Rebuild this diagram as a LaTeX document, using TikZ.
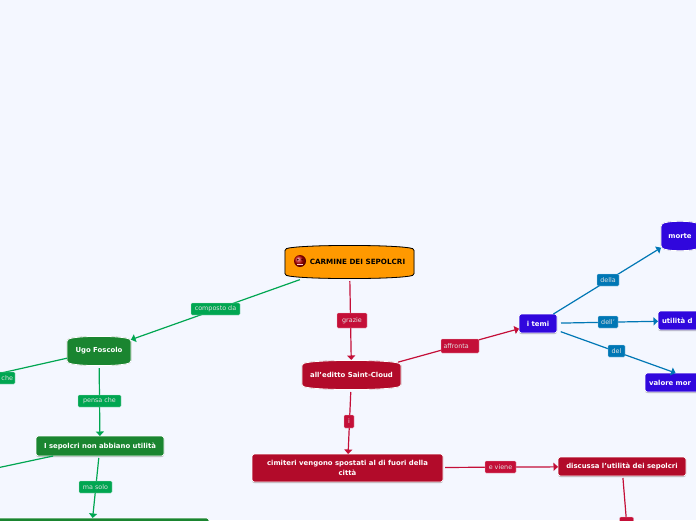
\documentclass[tikz,border=0pt]{standalone}
\usepackage{fontspec}
\setmainfont{DejaVu Sans}
\usetikzlibrary{calc,arrows.meta,shadows}
\definecolor{bgc}{HTML}{F4F7FF}
\definecolor{orangec}{HTML}{FF9900}
\definecolor{crim}{HTML}{B20B2A}
\definecolor{crimlab}{HTML}{C40F38}
\definecolor{forest}{HTML}{1A8530}
\definecolor{greenlab}{HTML}{00A651}
\definecolor{indigo}{HTML}{3007DD}
\definecolor{bluelab}{HTML}{0077B5}
\pgfdeclarelayer{bg}
\pgfsetlayers{bg,main}
\tikzset{
  shapebase/.style={rectangle,inner sep=0pt,outer sep=0pt,align=center,font=\fontsize{6.9}{10}\selectfont\bfseries},
  barrelnode/.style={shapebase,text=white,minimum width=#1},
  boxnode/.style={shapebase,text=white,rounded corners=2.5pt,draw=white,line width=.7pt,
    drop shadow={shadow xshift=0pt,shadow yshift=-1pt,fill=black,opacity=.3}},
  lab/.style={rectangle,rounded corners=1.2pt,inner sep=0pt,outer sep=0pt,text=white!88!black,
    font=\fontsize{6.4}{8}\selectfont,fill=#1,draw=white!70!#1,line width=.3pt},
  conn/.style={color=#1,line width=1.2pt,shorten <=2pt,-{Triangle[length=4.5pt,width=8pt]}},
  plainconn/.style={color=#1,line width=1.2pt,shorten <=0pt}
}
\newcommand{\barrelbg}[4]{%
  \begin{pgfonlayer}{bg}
  \coordinate (bnw) at (#1.north west);
  \coordinate (bse) at (#1.south east);
  \foreach \off/\fc/\dc/\lw in {1/black!30/black!30/.7,0/#2/#3/.8}{
    \draw[fill=\fc,draw=\dc,line width=\lw pt,rounded corners=1.5pt,yshift=-\off pt]
      let \p1=(bnw),\p2=(bse) in
      (\x1,\y1-#4 pt) .. controls ({\x1+(\x2-\x1)*.12},\y1+#4*.15pt) and ({\x2-(\x2-\x1)*.12},\y1+#4*.15pt) .. (\x2,\y1-#4 pt)
      -- (\x2,\y2+#4 pt) .. controls ({\x2-(\x2-\x1)*.12},\y2-#4*.15pt) and ({\x1+(\x2-\x1)*.12},\y2-#4*.15pt) .. (\x1,\y2+#4 pt) -- cycle;
  }
  \end{pgfonlayer}}
\begin{document}
\begin{tikzpicture}[x=1pt,y=-1pt]
\useasboundingbox (0,0) rectangle (696,520);
\clip (0,0) rectangle (696,520);
\begin{pgfonlayer}{bg}
\fill[bgc] (0,0) rectangle (696,520);
\end{pgfonlayer}

% nodes
\node[barrelnode=129pt,minimum height=34pt,text=black,font=\fontsize{7.2}{10}\selectfont\bfseries] (root) at (349.5,262) {\hspace{16pt}CARMINE DEI SEPOLCRI};
\barrelbg{root}{orangec}{black}{4}
\shade[ball color=red!75!black] (300,261) circle (6);
\fill[black!70!red] (297.8,259.6) circle (1) (302.2,259.6) circle (1);
\fill[white!80!red] (297.4,264) rectangle (302.6,265.2);

\node[barrelnode=99pt,minimum height=30pt] (editto) at (351.5,375) {all'editto Saint-Cloud};
\barrelbg{editto}{crim}{white}{4}
\node[barrelnode=64pt,minimum height=30pt] (ugo) at (99,351) {Ugo Foscolo};
\barrelbg{ugo}{forest}{white}{4}
\node[barrelnode=38pt,minimum height=30pt] (morte) at (680,236) {morte};
\barrelbg{morte}{indigo}{white}{4}

\node[boxnode,fill=forest,minimum width=128pt,minimum height=20pt] (sepolcri) at (100,446) {I sepolcri non abbiano utilità};
\node[boxnode,fill=forest,minimum width=238pt,minimum height=52pt] (big) at (90,544) {};
\node[boxnode,fill=crim,minimum width=191pt,minimum height=28pt] (cimiteri) at (347.5,468) {cimiteri vengono spostati al di fuori della\\[-.6pt]città};
\node[boxnode,fill=crim,minimum width=128pt,minimum height=19pt] (discussa) at (622,466.5) {discussa l'utilità dei sepolcri};
\node[boxnode,fill=indigo,minimum width=38pt,minimum height=19pt] (temi) at (538,323.5) {i temi};
\node[boxnode,fill=indigo,minimum width=84pt,minimum height=19pt,text width=76pt,align=left] (utilita) at (700,320.5) {utilità d};
\node[boxnode,fill=indigo,minimum width=114pt,minimum height=19pt,text width=106pt,align=left] (valore) at (702,382.5) {valore mor};

\coordinate (fcheend) at (-30,380);
\coordinate (fsepend) at (-50,478);
\coordinate (fredend) at (628,540);

% connectors
\draw[conn=greenlab] (root) -- (ugo);
\draw[conn=crimlab] (root) -- (editto);
\draw[conn=crimlab,shorten <=-3pt] (editto) -- (temi);
\draw[conn=crimlab] (editto) -- (cimiteri);
\draw[conn=crimlab] (cimiteri) -- (discussa);
\draw[plainconn=crimlab,shorten <=2pt] (discussa) -- (fredend);
\draw[conn=bluelab,shorten <=0pt] (temi) -- (morte);
\draw[conn=bluelab,shorten <=4pt] (temi) -- (utilita);
\draw[conn=bluelab,shorten <=4pt] (temi) -- (valore);
\draw[plainconn=greenlab] (ugo) -- (fcheend);
\draw[conn=greenlab] (ugo) -- (sepolcri);
\draw[plainconn=greenlab] (sepolcri) -- (fsepend);
\draw[conn=greenlab] (sepolcri) -- (big);

% labels
\node[lab=greenlab,minimum width=49pt,minimum height=12pt] (lcomp) at (215.5,309) {composto da};
\node[lab=crimlab,minimum width=30pt,minimum height=15pt] (lgraz) at (352,320.5) {grazie};
\node[lab=crimlab,minimum width=38pt,minimum height=14pt,text width=33pt,align=left] (laff) at (460,346) {affronta};
\node[lab=crimlab,minimum width=10pt,minimum height=13pt] (li) at (349,421.5) {i};
\node[lab=crimlab,minimum width=31pt,minimum height=12pt] (lviene) at (500.5,467) {e viene};
\node[lab=crimlab,minimum width=14pt,minimum height=14pt] (lred) at (626.5,524) {};
\node[lab=bluelab,minimum width=22pt,minimum height=12pt] (ldella) at (608,280) {della};
\node[lab=bluelab,minimum width=20pt,minimum height=12pt] (ldell) at (608,322) {dell'};
\node[lab=bluelab,minimum width=17pt,minimum height=12pt] (ldel) at (616.5,351) {del};
\node[lab=greenlab,minimum width=43pt,minimum height=12pt] (lpensa) at (99.5,401) {pensa che};
\node[lab=greenlab,minimum width=33pt,minimum height=12pt] (lma) at (95.5,487) {ma solo};
\node[lab=greenlab,minimum width=17pt,minimum height=12pt,text width=13pt,align=right] (lche) at (6.5,378) {che};
\end{tikzpicture}
\end{document}
